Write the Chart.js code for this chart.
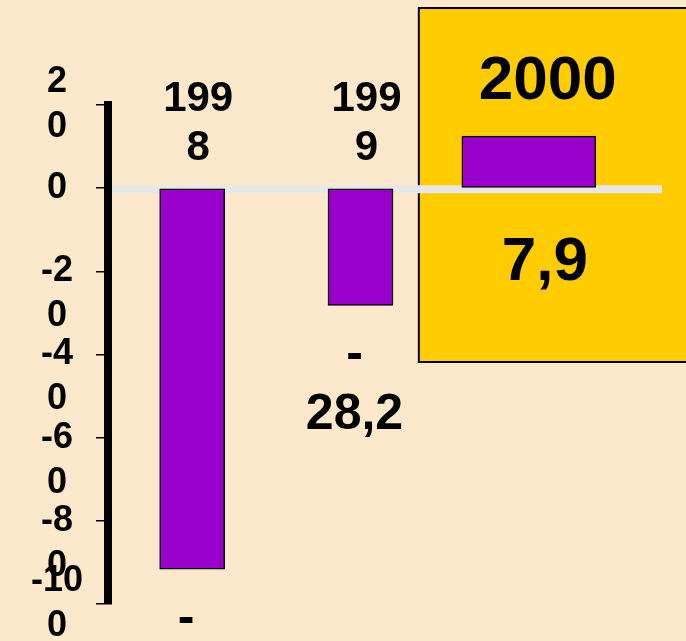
<!DOCTYPE html>
<html>
<head>
<meta charset="utf-8">
<title>1998-2000</title>
<script src="https://cdn.jsdelivr.net/npm/chart.js@4.4.1/dist/chart.umd.min.js"></script>
<style>
  html, body { margin: 0; padding: 0; background: #fce8cb; }
  canvas { display: block; }
</style>
</head>
<body>
<canvas id="diagram" width="686" height="641"></canvas>
<script>
"use strict"

// data
const years = ["1998", "1999", "2000"];
const values = [-91.6, -28.2, 12.5];
const valueTexts = ["-91,6", "-28,2", "7,9"];
const yTicks = [20, 0, -20, -40, -60, -80, -100];
const highlightYear = "2000";

const yMin = Math.min(...yTicks);
const yMax = Math.max(...yTicks);
const hi = years.indexOf(highlightYear); // stapeln i gula rutan
const fontFamily = "'Liberation Sans', Arial, sans-serif";

function font(size) {
    return "bold " + size + "px " + fontFamily;
}

// gul ruta + nollinje
const decor = {
    id: "decor",
    beforeDraw(chart) {
        const ctx = chart.ctx;
        const x = chart.scales.x.getPixelForValue(hi);
        ctx.save();
        ctx.fillStyle = "#ffcc00";
        ctx.strokeStyle = "#000";
        ctx.lineWidth = 2;
        ctx.fillRect(x - 110, 8, 400, 354);
        ctx.strokeRect(x - 110, 8, 400, 354);
        ctx.restore();
    },
    beforeDatasetsDraw(chart) {
        const ctx = chart.ctx;
        const y0 = chart.scales.y.getPixelForValue(0);
        ctx.save();
        ctx.strokeStyle = "#e8e8e8";
        ctx.lineWidth = 8;
        ctx.beginPath();
        ctx.moveTo(chart.chartArea.left + 4, y0 + 1);
        ctx.lineTo(662, y0 + 1);
        ctx.stroke();
        ctx.restore();
    }
};

// årtal och värden
const labels = {
    id: "labels",
    afterDatasetsDraw(chart) {
        const ctx = chart.ctx;
        const xs = chart.scales.x;
        const ys = chart.scales.y;
        const y0 = ys.getPixelForValue(0);
        ctx.save();
        ctx.fillStyle = "#000";
        ctx.textAlign = "center";
        ctx.textBaseline = "middle";
        years.forEach((year, i) => {
            const x = xs.getPixelForValue(i);
            const end = ys.getPixelForValue(values[i]);
            if (i === hi) {
                ctx.font = font(62);
                ctx.fillText(year, x + 19, 82);
                ctx.fillText(valueTexts[i], x + 16, y0 + 75);
            } else {
                ctx.font = font(42);
                ctx.fillText(year.slice(0, 3), x + 6, y0 - 89);
                ctx.fillText(year.slice(3), x + 6, y0 - 40);
                ctx.font = font(50);
                ctx.fillText("-", x - 6, end + 50);
                ctx.fillText(valueTexts[i].slice(1), x - 6, end + 110);
            }
        });
        ctx.restore();
    }
};

const barStyle = {
    backgroundColor: "#9900cc",
    borderColor: "#000",
    borderWidth: 1.5,
    borderSkipped: false,
    grouped: false
};

new Chart(document.getElementById("diagram"), {
    type: "bar",
    data: {
        labels: years,
        datasets: [
            Object.assign({ data: values.map((v, i) => i === hi ? null : v), barThickness: 65 }, barStyle),
            Object.assign({ data: values.map((v, i) => i === hi ? v : null), barThickness: 134 }, barStyle)
        ]
    },
    options: {
        responsive: false,
        animation: false,
        layout: { padding: { left: 0, top: 105, right: 73, bottom: 37 } },
        plugins: { legend: { display: false }, tooltip: { enabled: false } },
        scales: {
            x: { display: false },
            y: {
                min: yMin,
                max: yMax,
                afterBuildTicks: scale => {
                    scale.ticks = yTicks.slice().sort((a, b) => a - b).map(v => ({ value: v }));
                },
                afterFit: scale => {
                    scale.width = 108;
                    scale.paddingTop = 0;
                    scale.paddingBottom = 0;
                },
                ticks: {
                    autoSkip: false,
                    color: "#000",
                    font: { family: fontFamily, size: 36, weight: "bold", lineHeight: 1.25 },
                    crossAlign: "center",
                    padding: 13,
                    callback: value => {
                        const s = String(value);
                        if (s.length < 2) return s;
                        const lines = [s.slice(0, -1), s.slice(-1)];
                        return (value < 0 && value > yMin) ? [""].concat(lines) : lines; // som i originalet
                    }
                },
                grid: { drawOnChartArea: false, color: "#000", lineWidth: 1.5, tickLength: 12 },
                border: { display: true, color: "#000", width: 8 }
            }
        }
    },
    plugins: [decor, labels]
});
</script>
</body>
</html>
